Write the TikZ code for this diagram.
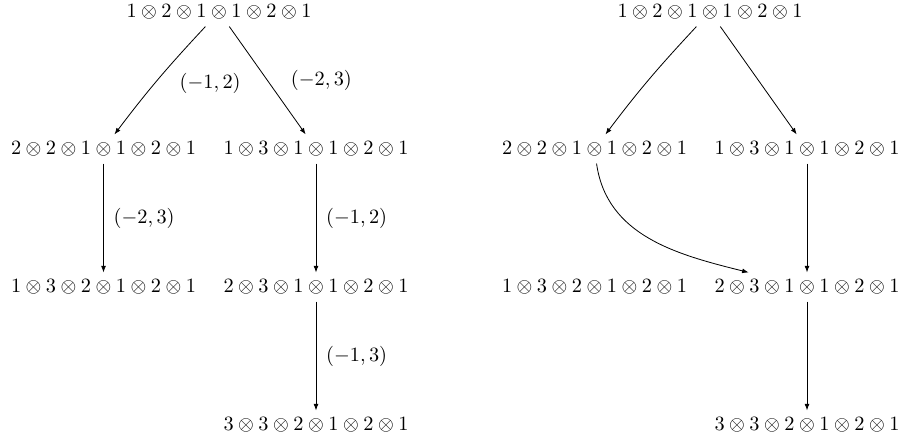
\documentclass[tikz,border=0pt]{standalone}
\usetikzlibrary{arrows.meta}
\begin{document}
\begin{tikzpicture}[x=0.4926pt,y=-0.4926pt,
  st/.style={inner sep=3.33pt},
  ar/.style={-{Latex[length=3.2pt,width=2.4pt]}},
  lb/.style={midway,anchor=west}]
\useasboundingbox (0,0) rectangle (901,440);
% left diagram
\node[st] (a) at (219,12) {$1\otimes2\otimes1\otimes1\otimes2\otimes1$};
\node[st] (b) at (103.5,149) {$2\otimes2\otimes1\otimes1\otimes2\otimes1$};
\node[st] (c) at (316,149) {$1\otimes3\otimes1\otimes1\otimes2\otimes1$};
\node[st] (d) at (103.5,287) {$1\otimes3\otimes2\otimes1\otimes2\otimes1$};
\node[st] (e) at (316,287) {$2\otimes3\otimes1\otimes1\otimes2\otimes1$};
\node[st] (f) at (316,425) {$3\otimes3\otimes2\otimes1\otimes2\otimes1$};
\draw[ar] (a) to[out=-133,in=53] node[lb,xshift=7pt,yshift=-2pt] {$(-1,2)$} (b);
\draw[ar] (a) -- node[lb,xshift=8pt] {$(-2,3)$} (c);
\draw[ar] (b) -- node[lb,xshift=1.5pt] {$(-2,3)$} (d);
\draw[ar] (c) -- node[lb,xshift=1.5pt] {$(-1,2)$} (e);
\draw[ar] (e) -- node[lb,xshift=1.5pt] {$(-1,3)$} (f);
% right diagram
\node[st] (a2) at (710,12) {$1\otimes2\otimes1\otimes1\otimes2\otimes1$};
\node[st] (b2) at (594.5,149) {$2\otimes2\otimes1\otimes1\otimes2\otimes1$};
\node[st] (c2) at (807,149) {$1\otimes3\otimes1\otimes1\otimes2\otimes1$};
\node[st] (d2) at (594.5,287) {$1\otimes3\otimes2\otimes1\otimes2\otimes1$};
\node[st] (e2) at (807,287) {$2\otimes3\otimes1\otimes1\otimes2\otimes1$};
\node[st] (f2) at (807,425) {$3\otimes3\otimes2\otimes1\otimes2\otimes1$};
\draw[ar] (a2) to[out=-133,in=53] (b2);
\draw[ar] (a2) -- (c2);
\draw[ar] (b2) to[out=-82,in=166] (e2);
\draw[ar] (c2) -- (e2);
\draw[ar] (e2) -- (f2);
\end{tikzpicture}
\end{document}
